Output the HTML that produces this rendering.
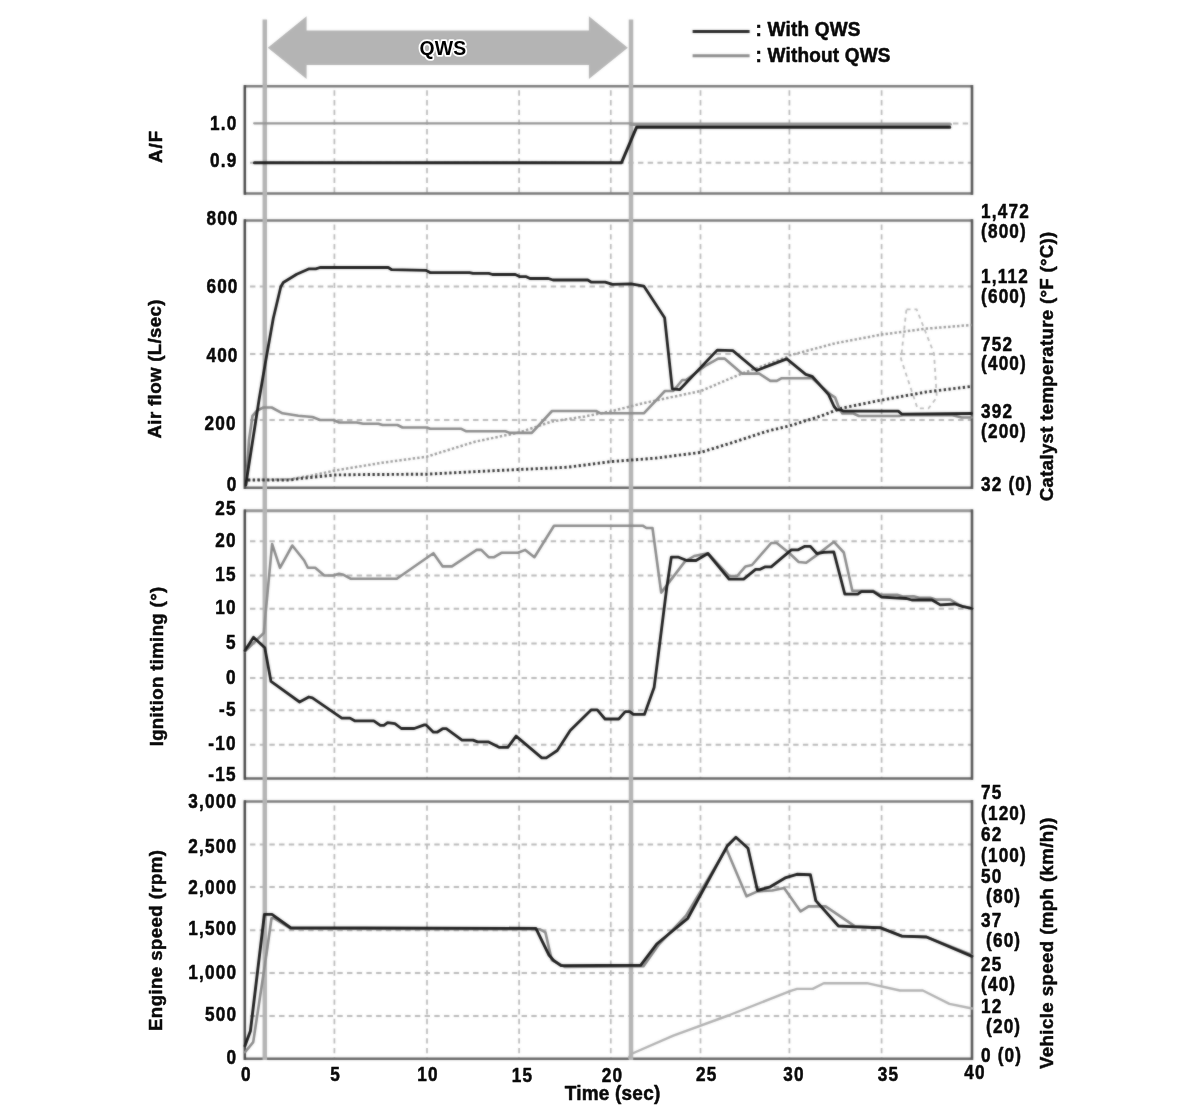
<!DOCTYPE html>
<html lang="en">
<head>
<meta charset="utf-8">
<title>QWS chart</title>
<style>
html,body{margin:0;padding:0;background:#fff;}
body{width:1200px;height:1110px;overflow:hidden;font-family:"Liberation Sans",sans-serif;}
svg{display:block;}
</style>
</head>
<body>
<svg width="1200" height="1110" viewBox="0 0 1200 1110" role="img" aria-label="QWS chart">
<rect width="1200" height="1110" fill="#fff"/>
<defs><filter id="soft" x="0" y="0" width="1200" height="1110" filterUnits="userSpaceOnUse" color-interpolation-filters="sRGB"><feGaussianBlur in="SourceGraphic" stdDeviation="0.8" result="b"/><feComposite in="SourceGraphic" in2="b" operator="arithmetic" k1="0" k2="0.5" k3="0.5" k4="0"/></filter></defs>
<g filter="url(#soft)">
<g fill="none" stroke="#b8b8b8" stroke-width="2.0" stroke-dasharray="5.4 4.3">
<path stroke-width="1.7" d="M334.4 90.3 V193.5"/>
<path stroke-width="1.7" d="M427.0 90.3 V193.5"/>
<path stroke-width="1.7" d="M519.1 90.3 V193.5"/>
<path stroke-width="1.7" d="M610.8 90.3 V193.5"/>
<path stroke-width="1.7" d="M700.5 90.3 V193.5"/>
<path stroke-width="1.7" d="M789.4 90.3 V193.5"/>
<path stroke-width="1.7" d="M881.6 90.3 V193.5"/>
<path d="M953 123.5 H972.0"/>
<path d="M250.0 162.8 H972.0"/>
<path stroke-width="1.7" d="M334.4 224.5 V487.7"/>
<path stroke-width="1.7" d="M427.0 224.5 V487.7"/>
<path stroke-width="1.7" d="M519.1 224.5 V487.7"/>
<path stroke-width="1.7" d="M610.8 224.5 V487.7"/>
<path stroke-width="1.7" d="M700.5 224.5 V487.7"/>
<path stroke-width="1.7" d="M789.4 224.5 V487.7"/>
<path stroke-width="1.7" d="M881.6 224.5 V487.7"/>
<path d="M250.0 286.5 H972.0"/>
<path d="M250.0 354.0 H972.0"/>
<path d="M250.0 420.0 H972.0"/>
<path stroke-width="1.7" d="M334.4 514.8 V778.5"/>
<path stroke-width="1.7" d="M427.0 514.8 V778.5"/>
<path stroke-width="1.7" d="M519.1 514.8 V778.5"/>
<path stroke-width="1.7" d="M610.8 514.8 V778.5"/>
<path stroke-width="1.7" d="M700.5 514.8 V778.5"/>
<path stroke-width="1.7" d="M789.4 514.8 V778.5"/>
<path stroke-width="1.7" d="M881.6 514.8 V778.5"/>
<path d="M250.0 541.3 H972.0"/>
<path d="M250.0 575.5 H972.0"/>
<path d="M250.0 608.7 H972.0"/>
<path d="M250.0 643.6 H972.0"/>
<path d="M250.0 678.0 H972.0"/>
<path d="M250.0 710.2 H972.0"/>
<path d="M250.0 744.7 H972.0"/>
<path stroke-width="1.7" d="M334.4 805.4 V1058.8"/>
<path stroke-width="1.7" d="M427.0 805.4 V1058.8"/>
<path stroke-width="1.7" d="M519.1 805.4 V1058.8"/>
<path stroke-width="1.7" d="M610.8 805.4 V1058.8"/>
<path stroke-width="1.7" d="M700.5 805.4 V1058.8"/>
<path stroke-width="1.7" d="M789.4 805.4 V1058.8"/>
<path stroke-width="1.7" d="M881.6 805.4 V1058.8"/>
<path d="M250.0 844.6 H972.0"/>
<path d="M250.0 887.0 H972.0"/>
<path d="M250.0 930.2 H972.0"/>
<path d="M250.0 973.1 H972.0"/>
<path d="M250.0 1016.0 H972.0"/>
</g>
<path fill="none" stroke="#7a7a7a" stroke-width="2.5" d="M244.0 86.3 H973.0"/>
<path fill="none" stroke="#747474" stroke-width="2.6" d="M244.0 193.5 H973.0"/>
<path fill="none" stroke="#484848" stroke-width="2.5" stroke-linecap="square" d="M244.8 86.3 V193.5"/>
<path fill="none" stroke="#555555" stroke-width="2.6" stroke-linecap="square" d="M972.0 86.3 V193.5"/>
<path fill="none" stroke="#7a7a7a" stroke-width="2.5" d="M244.0 220.5 H973.0"/>
<path fill="none" stroke="#646464" stroke-width="2.5" d="M244.0 487.7 H973.0"/>
<path fill="none" stroke="#484848" stroke-width="2.5" stroke-linecap="square" d="M244.8 220.5 V487.7"/>
<path fill="none" stroke="#555555" stroke-width="2.6" stroke-linecap="square" d="M972.0 220.5 V487.7"/>
<path fill="none" stroke="#949494" stroke-width="3.1" d="M244.0 510.8 H973.0"/>
<path fill="none" stroke="#646464" stroke-width="2.5" d="M244.0 778.5 H973.0"/>
<path fill="none" stroke="#484848" stroke-width="2.5" stroke-linecap="square" d="M244.8 510.8 V778.5"/>
<path fill="none" stroke="#555555" stroke-width="2.6" stroke-linecap="square" d="M972.0 510.8 V778.5"/>
<path fill="none" stroke="#7a7a7a" stroke-width="2.5" d="M244.0 801.4 H973.0"/>
<path fill="none" stroke="#646464" stroke-width="2.5" d="M244.0 1058.8 H973.0"/>
<path fill="none" stroke="#484848" stroke-width="2.5" stroke-linecap="square" d="M244.8 801.4 V1058.8"/>
<path fill="none" stroke="#555555" stroke-width="2.6" stroke-linecap="square" d="M972.0 801.4 V1058.8"/>
<g fill="none" stroke="#b4b4b4" stroke-width="4.5">
<path d="M264.8 19.5 V1060"/>
<path d="M631.0 19.5 V1060"/>
</g>
<path fill="#b4b4b4" d="M267.8 47.7 L306.6 16.3 V30.5 H588.9 V16.3 L627.8 47.7 L588.9 79.1 V64.9 H306.6 V79.1 Z"/>
<polyline fill="none" stroke="#939393" stroke-width="2.3" stroke-linejoin="round" stroke-linecap="round"  points="254.2,123.3 631.0,123.3"/>
<polyline fill="none" stroke="#959595" stroke-width="3.6" stroke-linejoin="round" stroke-linecap="round"  points="631.0,124.3 950.0,124.3"/>
<polyline fill="none" stroke="#1a1a1a" stroke-width="3.0" stroke-linejoin="round" stroke-linecap="round"  points="254.4,162.7 621.5,162.7 636.5,127.3 949.8,127.3"/>
<polyline fill="none" stroke="#bcbcbc" stroke-width="1.8" stroke-dasharray="4 4" points="906.5,309.3 916.6,309.3 934.0,353.4 936.8,397.4 928.5,408.4 917.5,408.4 901.0,358.9 905.6,316.7 906.5,309.3"/>
<polyline fill="none" stroke="#9a9a9a" stroke-width="2.5" stroke-dasharray="2.4 2.1" points="248.0,480.0 290.0,479.3 312.0,475.5 333.3,470.8 381.7,462.8 426.7,456.7 475.0,441.7 519.0,432.5 552.0,421.5 585.0,416.4 610.7,411.4 640.0,404.0 661.3,399.3 700.7,391.0 741.9,373.6 786.8,357.2 789.6,355.4 835.0,343.3 881.4,334.6 926.7,328.6 971.6,325.0"/>
<polyline fill="none" stroke="#2a2a2a" stroke-width="2.9" stroke-dasharray="2.3 2.5" points="248.0,480.0 290.0,480.0 300.0,478.5 320.0,476.5 334.0,475.0 360.0,474.6 427.0,474.2 475.0,471.6 519.0,469.5 567.0,467.3 585.0,465.0 610.7,461.6 640.0,459.4 656.7,458.0 700.7,452.4 730.0,443.3 766.7,431.3 789.6,425.8 821.7,415.8 840.5,408.4 881.4,400.1 926.7,391.9 971.6,386.4"/>
<polyline fill="none" stroke="#8a8a8a" stroke-width="2.6" stroke-linejoin="round" stroke-linecap="round"  points="246.0,485.0 249.0,440.0 252.5,415.8 256.7,410.8 263.3,407.5 271.7,407.5 282.5,413.3 298.3,415.8 312.5,417.0 320.0,420.0 333.3,420.0 339.2,422.5 356.7,422.5 363.3,423.7 378.3,423.7 382.5,425.0 397.5,425.0 402.5,427.5 427.0,427.5 430.0,428.8 461.3,428.8 465.8,431.2 505.3,431.2 509.8,432.9 531.8,432.9 552.0,411.0 596.0,411.0 600.6,413.3 643.8,413.3 664.9,391.0 673.2,391.0 682.3,380.0 686.0,380.0 706.2,365.3 718.1,358.6 724.5,358.6 741.9,373.6 759.3,373.6 770.3,380.9 776.8,380.9 781.3,378.3 812.1,378.3 830.8,394.7 835.0,397.3 839.6,409.3 842.4,413.5 853.4,413.5 858.9,416.0 899.2,416.0 902.9,415.3 952.4,415.3 961.6,417.5 971.6,417.5"/>
<polyline fill="none" stroke="#1a1a1a" stroke-width="2.8" stroke-linejoin="round" stroke-linecap="round"  points="245.8,485.0 259.0,400.0 265.0,365.0 273.3,318.3 280.8,286.7 283.3,282.5 296.7,274.2 309.2,268.8 315.8,268.8 320.0,267.5 388.3,267.5 391.7,269.7 425.8,270.3 430.0,272.6 469.5,272.6 473.0,273.4 488.8,273.4 492.4,274.5 515.3,274.5 520.0,276.7 526.3,276.7 530.0,278.5 548.3,278.5 553.0,280.0 587.8,280.0 591.4,282.2 605.2,282.2 612.5,284.4 631.0,283.8 643.8,286.1 664.6,317.7 672.3,388.8 679.6,389.7 717.2,350.1 732.8,350.7 756.6,370.5 786.8,358.9 805.7,374.4 812.1,376.3 828.6,394.6 834.1,406.5 836.8,409.8 840.5,409.8 843.3,411.1 898.3,411.1 902.0,414.2 971.6,413.5"/>
<polyline fill="none" stroke="#8a8a8a" stroke-width="2.6" stroke-linejoin="round" stroke-linecap="round"  points="245.0,651.3 263.8,633.0 272.1,544.0 280.0,567.8 292.3,545.5 304.2,560.5 307.8,567.8 315.2,567.8 324.3,575.5 333.5,575.5 339.0,573.7 343.6,574.8 350.9,578.8 396.8,578.8 433.4,553.2 442.7,566.4 451.9,566.4 476.7,549.9 481.3,549.9 488.6,557.2 494.1,557.2 501.4,552.8 517.9,552.8 525.3,549.9 534.4,557.2 554.0,525.7 642.7,525.7 646.4,528.0 652.5,528.0 661.2,592.6 685.0,561.4 694.2,556.0 707.9,553.2 729.0,576.0 737.2,576.0 745.5,566.4 752.0,565.0 771.2,543.0 776.7,543.0 789.5,553.2 798.7,562.0 806.2,562.8 817.4,554.6 834.0,541.8 843.8,552.5 852.3,590.8 873.3,590.8 880.7,594.8 897.2,594.8 902.7,596.6 913.7,596.3 919.2,597.7 930.2,597.7 935.7,599.6 950.3,599.6 961.3,606.0 972.0,608.2"/>
<polyline fill="none" stroke="#1a1a1a" stroke-width="2.8" stroke-linejoin="round" stroke-linecap="round"  points="245.0,650.5 253.5,637.2 264.8,647.8 271.0,681.4 299.6,702.0 308.8,697.0 312.4,697.9 341.8,718.1 350.0,718.1 354.6,720.8 373.8,720.8 380.3,725.4 383.9,725.4 387.6,722.7 394.9,723.6 401.3,728.5 414.2,728.5 424.3,724.9 426.1,724.9 433.4,732.2 437.1,732.2 442.6,728.7 446.3,728.7 462.0,740.1 473.0,740.1 477.6,741.9 488.6,741.9 499.6,747.4 507.8,747.4 516.1,736.1 541.8,757.9 546.3,757.9 557.3,750.5 570.2,730.6 591.3,709.8 597.3,709.8 605.0,719.0 618.8,719.0 625.2,711.7 629.8,711.7 633.4,714.4 644.4,714.4 654.1,687.6 658.3,655.0 666.7,588.0 671.3,557.2 678.6,557.2 686.8,560.5 696.0,560.5 707.9,553.5 729.0,579.2 743.7,579.2 755.6,569.3 760.2,569.3 764.8,566.9 771.2,566.9 791.3,549.9 797.8,549.9 804.4,546.4 810.4,546.4 816.8,553.5 823.8,552.3 833.8,551.9 844.8,594.1 857.8,594.1 861.4,591.7 873.3,591.7 881.6,597.2 906.3,598.5 911.8,600.0 932.0,600.0 940.3,604.9 954.9,604.0 963.2,606.7 972.0,608.5"/>
<polyline fill="none" stroke="#b0b0b0" stroke-width="2.4" stroke-linejoin="round" stroke-linecap="round"  points="629.0,1057.5 631.2,1054.0 673.3,1035.7 728.3,1015.5 790.7,990.8 797.1,988.9 812.7,988.9 823.8,983.2 866.9,983.2 899.9,990.5 922.8,990.5 949.4,1003.9 972.0,1008.5"/>
<polyline fill="none" stroke="#8a8a8a" stroke-width="2.6" stroke-linejoin="round" stroke-linecap="round"  points="245.0,1052.2 253.2,1042.1 266.9,951.3 271.5,918.3 274.3,918.3 290.8,928.6 540.0,929.3 545.4,932.4 551.8,960.0 564.7,966.9 643.5,966.3 658.5,944.9 686.0,915.6 726.3,848.7 746.5,896.3 757.5,891.4 772.2,890.5 784.1,888.1 800.6,911.4 808.6,906.4 825.6,906.4 855.0,926.4 880.7,927.8 901.8,936.1 926.5,937.0 972.0,955.0"/>
<polyline fill="none" stroke="#1a1a1a" stroke-width="2.9" stroke-linejoin="round" stroke-linecap="round"  points="245.0,1045.8 250.4,1031.1 264.4,914.4 272.0,914.4 290.6,927.7 535.9,928.4 549.1,955.3 553.7,960.5 561.0,965.6 640.6,965.3 656.7,944.0 687.8,918.3 727.3,845.9 735.9,837.3 748.0,848.3 757.5,890.5 770.3,886.8 785.9,877.6 796.9,874.3 810.4,874.7 815.8,900.6 838.4,926.0 855.0,926.9 880.7,927.8 901.8,936.1 926.5,937.0 972.0,956.3"/>
<path fill="none" stroke="#242424" stroke-width="3.1" d="M692.6 31.5 H749.6"/>
<path fill="none" stroke="#8c8c8c" stroke-width="2.9" d="M692.6 55.8 H749.6"/>
</g>
<g font-family="'Liberation Sans', sans-serif" font-weight="700" font-size="19" fill="#0a0a0a" stroke="#0a0a0a" stroke-width="0.5" stroke-linejoin="round">
<text transform="translate(755.6 35.5) scale(1.0 1.025)" text-anchor="start" textLength="104.8" lengthAdjust="spacing" >: With QWS</text>
<text transform="translate(755.6 61.9) scale(1.0 1.025)" text-anchor="start" textLength="134.8" lengthAdjust="spacing" >: Without QWS</text>
<text transform="translate(442.9 55.4) scale(1 1.04)" font-size="19.4" text-anchor="middle" textLength="46.8" lengthAdjust="spacing" stroke="#fff" stroke-opacity="1" stroke-width="3.4" stroke-linejoin="round" paint-order="stroke" fill="#000">QWS</text>
<text transform="translate(237.4 129.8) scale(0.905 1.025)" text-anchor="end" letter-spacing="1.3" >1.0</text>
<text transform="translate(237.4 167.2) scale(0.905 1.025)" text-anchor="end" letter-spacing="1.3" >0.9</text>
<text transform="translate(238.6 225.2) scale(0.905 1.025)" text-anchor="end" letter-spacing="1.3" >800</text>
<text transform="translate(238.6 292.8) scale(0.905 1.025)" text-anchor="end" letter-spacing="1.3" >600</text>
<text transform="translate(238.6 362.0) scale(0.905 1.025)" text-anchor="end" letter-spacing="1.3" >400</text>
<text transform="translate(236.7 430.2) scale(0.905 1.025)" text-anchor="end" letter-spacing="1.3" >200</text>
<text transform="translate(237.4 490.8) scale(0.905 1.025)" text-anchor="end" letter-spacing="1.3" >0</text>
<text transform="translate(236.7 515.4) scale(0.905 1.025)" text-anchor="end" letter-spacing="1.3" >25</text>
<text transform="translate(236.7 546.7) scale(0.905 1.025)" text-anchor="end" letter-spacing="1.3" >20</text>
<text transform="translate(236.7 580.6) scale(0.905 1.025)" text-anchor="end" letter-spacing="1.3" >15</text>
<text transform="translate(236.7 614.1) scale(0.905 1.025)" text-anchor="end" letter-spacing="1.3" >10</text>
<text transform="translate(236.7 648.7) scale(0.905 1.025)" text-anchor="end" letter-spacing="1.3" >5</text>
<text transform="translate(236.7 684.1) scale(0.905 1.025)" text-anchor="end" letter-spacing="1.3" >0</text>
<text transform="translate(236.7 715.8) scale(0.905 1.025)" text-anchor="end" letter-spacing="1.3" >-5</text>
<text transform="translate(236.7 750.0) scale(0.905 1.025)" text-anchor="end" letter-spacing="1.3" >-10</text>
<text transform="translate(236.7 780.6) scale(0.905 1.025)" text-anchor="end" letter-spacing="1.3" >-15</text>
<text transform="translate(237.2 808.0) scale(0.905 1.025)" text-anchor="end" letter-spacing="1.3" >3,000</text>
<text transform="translate(237.2 853.4) scale(0.905 1.025)" text-anchor="end" letter-spacing="1.3" >2,500</text>
<text transform="translate(237.2 894.0) scale(0.905 1.025)" text-anchor="end" letter-spacing="1.3" >2,000</text>
<text transform="translate(237.2 935.4) scale(0.905 1.025)" text-anchor="end" letter-spacing="1.3" >1,500</text>
<text transform="translate(237.2 979.1) scale(0.905 1.025)" text-anchor="end" letter-spacing="1.3" >1,000</text>
<text transform="translate(237.2 1020.9) scale(0.905 1.025)" text-anchor="end" letter-spacing="1.3" >500</text>
<text transform="translate(237.2 1063.9) scale(0.905 1.025)" text-anchor="end" letter-spacing="1.3" >0</text>
<text transform="translate(246.4 1081.0) scale(0.905 1.025)" text-anchor="middle" letter-spacing="1.3" >0</text>
<text transform="translate(335.7 1081.0) scale(0.905 1.025)" text-anchor="middle" letter-spacing="1.3" >5</text>
<text transform="translate(428.1 1081.0) scale(0.905 1.025)" text-anchor="middle" letter-spacing="1.3" >10</text>
<text transform="translate(522.6 1082.4) scale(0.905 1.025)" text-anchor="middle" letter-spacing="1.3" >15</text>
<text transform="translate(612.6 1082.4) scale(0.905 1.025)" text-anchor="middle" letter-spacing="1.3" >20</text>
<text transform="translate(706.7 1081.0) scale(0.905 1.025)" text-anchor="middle" letter-spacing="1.3" >25</text>
<text transform="translate(794.1 1081.0) scale(0.905 1.025)" text-anchor="middle" letter-spacing="1.3" >30</text>
<text transform="translate(888.6 1081.0) scale(0.905 1.025)" text-anchor="middle" letter-spacing="1.3" >35</text>
<text transform="translate(975.0 1079.4) scale(0.905 1.025)" text-anchor="middle" letter-spacing="1.3" >40</text>
<text transform="translate(612.5 1099.6) scale(1.0 1.025)" text-anchor="middle" textLength="95.5" lengthAdjust="spacing" >Time (sec)</text>
<text transform="translate(981.0 218.0) scale(0.905 1.025)" text-anchor="start" letter-spacing="1.3" >1,472</text>
<text transform="translate(981.0 237.6) scale(0.905 1.025)" text-anchor="start" letter-spacing="1.3" >(800)</text>
<text transform="translate(981.0 283.1) scale(0.905 1.025)" text-anchor="start" letter-spacing="1.3" >1,112</text>
<text transform="translate(981.0 303.0) scale(0.905 1.025)" text-anchor="start" letter-spacing="1.3" >(600)</text>
<text transform="translate(981.0 350.6) scale(0.905 1.025)" text-anchor="start" letter-spacing="1.3" >752</text>
<text transform="translate(981.0 370.2) scale(0.905 1.025)" text-anchor="start" letter-spacing="1.3" >(400)</text>
<text transform="translate(981.0 417.7) scale(0.905 1.025)" text-anchor="start" letter-spacing="1.3" >392</text>
<text transform="translate(981.0 437.9) scale(0.905 1.025)" text-anchor="start" letter-spacing="1.3" >(200)</text>
<text transform="translate(981.0 490.7) scale(0.905 1.025)" text-anchor="start" letter-spacing="1.3" >32 (0)</text>
<text transform="translate(981.0 799.3) scale(0.905 1.025)" text-anchor="start" letter-spacing="1.3" >75</text>
<text transform="translate(981.0 819.5) scale(0.905 1.025)" text-anchor="start" letter-spacing="1.3" >(120)</text>
<text transform="translate(981.0 841.1) scale(0.905 1.025)" text-anchor="start" letter-spacing="1.3" >62</text>
<text transform="translate(981.0 861.6) scale(0.905 1.025)" text-anchor="start" letter-spacing="1.3" >(100)</text>
<text transform="translate(981.0 883.2) scale(0.905 1.025)" text-anchor="start" letter-spacing="1.3" >50</text>
<text transform="translate(986.0 903.1) scale(0.905 1.025)" text-anchor="start" letter-spacing="1.3" >(80)</text>
<text transform="translate(981.0 927.0) scale(0.905 1.025)" text-anchor="start" letter-spacing="1.3" >37</text>
<text transform="translate(986.0 947.2) scale(0.905 1.025)" text-anchor="start" letter-spacing="1.3" >(60)</text>
<text transform="translate(981.0 971.1) scale(0.905 1.025)" text-anchor="start" letter-spacing="1.3" >25</text>
<text transform="translate(981.0 991.0) scale(0.905 1.025)" text-anchor="start" letter-spacing="1.3" >(40)</text>
<text transform="translate(981.0 1012.9) scale(0.905 1.025)" text-anchor="start" letter-spacing="1.3" >12</text>
<text transform="translate(986.0 1033.1) scale(0.905 1.025)" text-anchor="start" letter-spacing="1.3" >(20)</text>
<text transform="translate(981.0 1061.9) scale(0.905 1.025)" text-anchor="start" letter-spacing="1.3" >0 (0)</text>
<text transform="translate(161.7 147.0) rotate(-90) scale(0.98 0.95)" text-anchor="middle" textLength="32.7" lengthAdjust="spacing">A/F</text>
<text transform="translate(160.6 369.0) rotate(-90) scale(0.98 0.95)" text-anchor="middle" textLength="141.8" lengthAdjust="spacing">Air flow (L/sec)</text>
<text transform="translate(163.4 666.6) rotate(-90) scale(0.98 0.95)" text-anchor="middle" textLength="162.8" lengthAdjust="spacing">Ignition timing (°)</text>
<text transform="translate(162.4 940.5) rotate(-90) scale(0.98 0.95)" text-anchor="middle" textLength="184.7" lengthAdjust="spacing">Engine speed (rpm)</text>
<text transform="translate(1053.2 366.5) rotate(-90) scale(0.98 0.95)" text-anchor="middle" textLength="275.0" lengthAdjust="spacing">Catalyst temperature (°F (°C))</text>
<text transform="translate(1053.2 943.3) rotate(-90) scale(0.98 0.95)" text-anchor="middle" textLength="256.7" lengthAdjust="spacing">Vehicle speed (mph (km/h))</text>
</g>
</svg>
</body>
</html>
